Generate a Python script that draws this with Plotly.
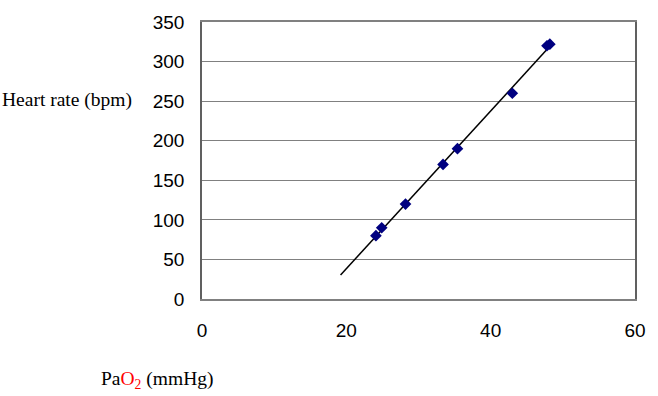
import numpy as np
import plotly.graph_objects as go

# Data
pao2 = [24.1, 24.9, 28.2, 33.4, 35.4, 43.0, 47.8, 48.2]
heart_rate = [80, 90, 120, 170, 190, 260, 320, 322]
trend_start_x = 19.2

x_ticks = [0, 20, 40, 60]
y_ticks = [0, 50, 100, 150, 200, 250, 300, 350]

slope, intercept = np.polyfit(pao2, heart_rate, 1)
tx = np.array([trend_start_x, max(pao2)])
ty = slope * tx + intercept

fig = go.Figure()
fig.add_trace(go.Scatter(x=tx, y=ty, mode="lines",
                         line=dict(color="black", width=1.5),
                         showlegend=False, hoverinfo="skip"))
fig.add_trace(go.Scatter(x=pao2, y=heart_rate, mode="markers",
                         marker=dict(symbol="diamond", size=9, color="#000080",
                                     line=dict(width=0)),
                         showlegend=False))

fig.update_layout(
    width=658, height=396,
    margin=dict(l=202, r=19, t=20, b=97),
    plot_bgcolor="white", paper_bgcolor="white",
    font=dict(family="Liberation Sans, Arial", size=19, color="black"),
    xaxis=dict(range=[0, 60], tickvals=x_ticks, showgrid=False, zeroline=False,
               showline=True, linecolor="#808080", linewidth=1.5, mirror=True,
               ticks="", ticklabelstandoff=13),
    yaxis=dict(range=[0, 350], tickvals=y_ticks, showgrid=True,
               gridcolor="#808080", gridwidth=1, zeroline=False,
               showline=True, linecolor="#606060", linewidth=1.5, mirror=True,
               ticks="", ticklabelstandoff=12),
    annotations=[
        dict(text="Heart rate (bpm)", xref="paper", yref="paper",
             x=-0.467, y=0.72, xanchor="left", yanchor="middle",
             showarrow=False,
             font=dict(family="Liberation Serif, Times New Roman", size=19.5)),
        dict(text="Pa<span style='color:red'>O<sub>2</sub></span> (mmHg)",
             xref="paper", yref="paper",
             x=-0.238, y=-0.294, xanchor="left", yanchor="middle",
             showarrow=False,
             font=dict(family="Liberation Serif, Times New Roman", size=19.5)),
    ],
)

fig.write_html("out.html", config={"displayModeBar": False},
               post_script="document.body.style.margin='0';")
